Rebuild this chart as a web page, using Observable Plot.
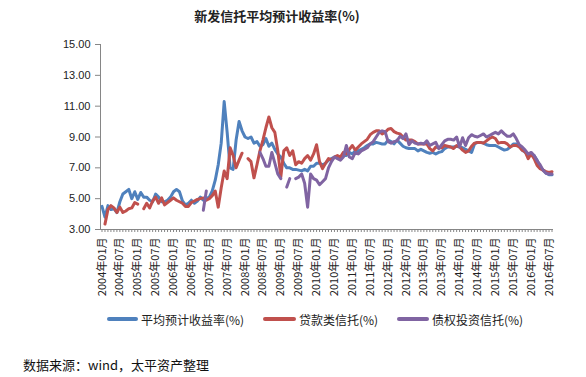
<!DOCTYPE html>
<html><head><meta charset="utf-8">
<script src="https://cdn.jsdelivr.net/npm/d3@7"></script>
<script src="https://cdn.jsdelivr.net/npm/@observablehq/plot@0.6"></script>
<style>
body{margin:0;background:#fff;font-family:"Noto Sans CJK SC","Noto Sans",sans-serif;}
#wrap{position:relative;width:586px;height:377px;overflow:hidden;background:#fff;}
#chart{position:absolute;left:0;top:0;}
.title{position:absolute;left:0;width:554px;top:6px;text-align:center;font-size:13px;font-weight:bold;color:#222;line-height:20px;}
.leg{position:absolute;top:311px;height:16px;display:flex;align-items:center;font-size:12px;color:#222;white-space:nowrap;}
.sw{display:inline-block;height:4px;border-radius:2px;margin-right:3px;}
.src{position:absolute;left:23px;top:355px;font-size:13px;color:#111;white-space:nowrap;}
</style></head>
<body>
<div id="wrap">
  <div class="title">新发信托平均预计收益率(%)</div>
  <div id="chart"></div>
  <div id="legend"></div>
  <div class="src">数据来源：wind，太平资产整理</div>
</div>
<script>
// series values, one per month from 2004-01 to 2016-08 (null = no data)
const avgYield = [
  4.5, 3.8, 4.55, 4.3, 4.35, 4.1, 4.8, 5.3, 5.45, 5.6, 5.0, 5.45,
  4.95, 5.4, 5.1, 5.1, 4.9, 4.8, 5.3, 5.1, 4.8, 4.8, 4.9, 5.1,
  5.45, 5.6, 5.45, 4.85, 4.6, 4.7, 4.9, 4.7, 4.85, 5.1, 4.9, 5.0,
  5.1, 5.5, 6.2, 7.2, 8.6, 11.3, 9.3, 7.0, 6.9, 8.8, 10.0, 9.4,
  9.0, 8.9, 9.0, 8.6, 8.7, 8.4, 8.5, 8.9, 8.4, 8.6, 8.2, 7.9,
  7.7, 7.3, 7.0, 7.0, 6.9, 6.9, 6.85, 6.8, 6.9, 6.8, 7.1, 7.1,
  7.3, 7.3, 7.2, 7.3, 7.5, 7.6, 7.7, 7.7, 7.6, 7.8, 7.8, 8.0,
  7.9, 8.1, 8.1, 8.2, 8.3, 8.45, 8.55, 8.55, 8.65, 8.6, 8.55, 8.55,
  8.8, 8.7, 8.55, 8.8, 8.6, 8.4, 8.3, 8.25, 8.25, 8.25, 8.1, 8.2,
  8.1, 8.0, 7.95, 8.0, 7.9, 8.0, 8.05, 8.25, 8.35, 8.35, 8.35, 8.4,
  8.35, 8.3, 8.2, 8.1, 8.0, 8.55, 8.65, 8.65, 8.6, 8.5, 8.45, 8.45,
  8.45, 8.35, 8.25, 8.15, 8.2, 8.35, 8.55, 8.55, 8.45, 8.15, 8.0, 7.9,
  7.85, 7.8, 7.5, 7.05, 6.85, 6.65, 6.55, 6.55
];
const loanTrust = [
  null, 3.35, 4.3, 4.55, 4.4, 4.1, 4.45, 4.1, 4.2, 4.35, 4.4, 4.75,
  4.65, null, 4.35, 4.7, 4.4, 4.85, 5.1, 4.7, 5.05, 4.6, 4.75, 4.9,
  5.05, 4.9, 4.8, 4.7, 4.5, 4.5, 4.75, 4.85, 4.95, 5.0, 5.05, 4.9,
  5.0, 5.2, 5.5, 4.45, 5.7, 6.8, 6.3, 8.3, 7.8, 7.0, 7.5, 7.95,
  null, 7.6, 7.4, 6.35, 7.2, 8.1, 8.8, 9.6, 10.3, 9.6, 9.3, 8.1,
  6.4, 8.1, 8.3, 7.8, 8.1, 7.2, 7.4, 7.3, 7.6, 7.8, 7.5, 7.9,
  8.5, 7.4, 6.95, 7.3, 7.6, 7.5, 7.7, 7.8, 7.7, 8.0, 7.9, 8.2,
  8.45, 8.15, 8.35, 8.55, 8.7, 8.85, 9.15, 9.3, 9.4, 9.4, 9.2, 9.3,
  9.5, 9.55, 9.35, 9.25, 9.2, 9.0, 8.8, 8.8, 8.8, 8.7, 8.55, 8.55,
  8.55, 8.55, 8.25, 8.1, 8.35, 8.3, 8.3, 8.45, 8.4, 8.35, 8.25, 8.45,
  8.35, 8.15, 8.0, 8.1, 8.4, 8.6, 8.65, 8.65, 8.6, 8.75, 8.9, 9.0,
  8.9, 8.6, 8.65, 8.65, 8.55, 8.35, 8.45, 8.45, 8.35, 8.15, 8.05, 7.6,
  7.9, 7.6, 7.15, 6.95, 6.85, 6.75, 6.7, 6.75
];
const debtTrust = [
  null, null, null, null, null, null, null, null, null, null, null, null,
  null, null, null, null, null, null, null, null, null, null, null, null,
  null, null, null, null, null, null, null, null, null, null, 4.25, 5.5,
  null, null, null, null, null, null, null, null, null, null, null, null,
  null, null, null, null, null, 8.0, 7.6, 7.1, 7.1, 8.0, 7.3, 6.6,
  6.3, null, 5.75, 6.3, null, 6.3, 6.4, 6.6, 6.0, 4.45, 6.6, 6.3,
  6.2, 5.9, 6.1, 6.3, 7.0, 7.4, 7.7, 7.6, 7.5, 7.7, 8.45, 7.7,
  7.6, 8.0, 7.9, 8.1, 8.2, 8.3, 8.55, 8.7, 9.0, 9.3, 9.4, 9.35,
  8.7, 8.6, 8.7, 8.75, 9.05, 8.9, 9.2, 8.5, 8.75, 8.6, 8.55, 8.6,
  8.55, 8.75, 8.45, 8.55, 8.65, 8.25, 8.5, 8.75, 8.85, 8.85, 8.8, 9.0,
  8.35, 8.95, 8.45, 8.95, 9.15, 9.05, 9.0, 9.1, 9.2, 9.0, 9.1, 9.2,
  9.3, 9.2, 9.4, 9.2, 9.05, 9.05, 9.2, 8.9, 8.5, 8.35, 8.15, 7.9,
  8.0, 7.8, 7.45, 7.2, 6.85, 6.65, 6.6, 6.6
];
const seriesNames = ["平均预计收益率(%)", "贷款类信托(%)", "债权投资信托(%)"];
const seriesColors = ["#4F81BD", "#C0504D", "#8064A2"];
const yTicks = [3, 5, 7, 9, 11, 13, 15];

// month categories
const months = [];
for (let y = 2004; y <= 2016; y++) {
  for (let m = 1; m <= 12; m++) {
    if (y === 2016 && m > 8) break;
    months.push(`${y}年${String(m).padStart(2, "0")}月`);
  }
}
const tickLabels = months.filter((d, i) => i % 6 === 0);

const rows = [];
[avgYield, loanTrust, debtTrust].forEach((arr, s) =>
  arr.forEach((v, i) => rows.push({month: months[i], value: v, series: seriesNames[s]})));

const ML = 100, MR = 33, MT = 44, MB = 148;
const chart = Plot.plot({
  width: 586, height: 377,
  marginLeft: ML, marginRight: MR, marginTop: MT, marginBottom: MB,
  style: {fontFamily: "'Noto Sans CJK SC', sans-serif", fontSize: "11px", background: "transparent", color: "#222"},
  x: {type: "point", domain: months, padding: 0.5, label: null},
  y: {domain: [3, 15], label: null},
  color: {domain: seriesNames, range: seriesColors},
  marks: [
    Plot.ruleY([3], {stroke: "#868686", strokeWidth: 1}),
    Plot.axisX({ticks: months, tickSize: 3, tickFormat: () => "", stroke: "#868686", label: null}),
    Plot.axisX({ticks: tickLabels, tickSize: 0, tickPadding: 8, tickRotate: -90, fill: "#222", fontSize: 11, label: null}),
    Plot.axisY({ticks: yTicks, tickSize: 5, tickPadding: 5, tickFormat: d => d.toFixed(2), stroke: "#868686", fill: "#222", fontSize: 11, fontFamily: "'Liberation Sans', sans-serif", label: null}),
    Plot.line(rows, {x: "month", y: "value", z: "series", stroke: "series", strokeWidth: 3, strokeLinejoin: "round", strokeLinecap: "round"})
  ]
});
document.getElementById("chart").appendChild(chart);

// vertical axis line
const ys = chart.scale("y");
d3.select(chart).insert("line", "g[aria-label='line']")
  .attr("x1", ML + 0.5).attr("x2", ML + 0.5)
  .attr("y1", ys.apply(15)).attr("y2", ys.apply(3))
  .attr("stroke", "#868686");

// legend
const legPos = [[107, 31], [263, 33], [397, 32]];
const leg = document.getElementById("legend");
seriesNames.forEach((n, i) => {
  const d = document.createElement("div");
  d.className = "leg";
  d.style.left = legPos[i][0] + "px";
  d.innerHTML = `<span class="sw" style="width:${legPos[i][1]}px;background:${seriesColors[i]}"></span><span>${n}</span>`;
  leg.appendChild(d);
});
</script>
</body></html>
